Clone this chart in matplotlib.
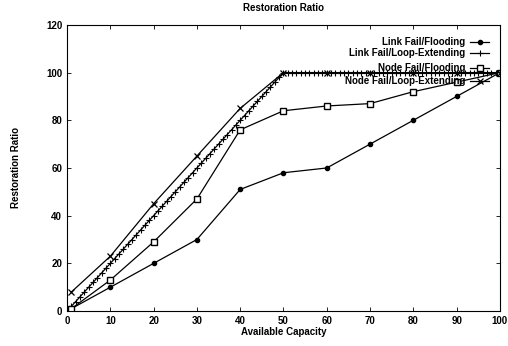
import matplotlib
matplotlib.use("Agg")
import matplotlib.pyplot as plt
from matplotlib.lines import Line2D

title = "Restoration Ratio"
xlabel = "Available Capacity"
ylabel = "Restoration Ratio"
xticks = [0, 10, 20, 30, 40, 50, 60, 70, 80, 90, 100]
yticks = [0, 20, 40, 60, 80, 100, 120]

lf_flood_x = [0, 1, 10, 20, 30, 40, 50, 60, 70, 80, 90, 100]
lf_flood_y = [0, 1, 10, 20, 30, 51, 58, 60, 70, 80, 90, 100]

lf_loop_x = list(range(0, 101))
lf_loop_y = [0, 2, 4, 6, 8, 10, 12, 14, 16, 18,
             20, 22, 24, 26, 28, 30, 32, 34, 36, 38,
             40, 42, 44, 46, 48, 50, 52, 54, 56, 58,
             60, 62, 64, 66, 68, 70, 72, 74, 76, 78,
             80, 82, 84, 86, 88, 90, 92, 94, 96, 98,
             100, 100, 100, 100, 100, 100, 100, 100, 100, 100,
             100, 100, 100, 100, 100, 100, 100, 100, 100, 100,
             100, 100, 100, 100, 100, 100, 100, 100, 100, 100,
             100, 100, 100, 100, 100, 100, 100, 100, 100, 100,
             100, 100, 100, 100, 100, 100, 100, 100, 100, 100,
             100]

nf_flood_x = [0, 1, 10, 20, 30, 40, 50, 60, 70, 80, 90, 100]
nf_flood_y = [0, 1, 13, 29, 47, 76, 84, 86, 87, 92, 96, 100]

nf_loop_x = [1, 10, 20, 30, 40, 50, 60, 70, 80, 90, 100]
nf_loop_y = [8, 23, 45, 65, 85, 100, 100, 100, 100, 100, 100]

labels = ['Link Fail/Flooding', 'Link Fail/Loop-Extending',
          'Node Fail/Flooding', 'Node Fail/Loop-Extending']

plt.rcParams['font.family'] = ['Liberation Sans', 'DejaVu Sans']
plt.rcParams['font.weight'] = 'bold'

fig = plt.figure(figsize=(5.08, 3.46), dpi=100)
ax = fig.add_axes([0.132, 0.101, 0.852, 0.827])

lw = 0.9
styles = [
    dict(marker='o', ms=3),
    dict(marker='+', ms=4, mew=0.8),
    dict(marker='s', ms=4, mfc='white', mew=1.0),
    dict(marker='x', ms=5, mew=0.9),
]
series = [(lf_flood_x, lf_flood_y), (lf_loop_x, lf_loop_y),
          (nf_flood_x, nf_flood_y), (nf_loop_x, nf_loop_y)]
for (xs, ys), st, lab in zip(series, styles, labels):
    ax.plot(xs, ys, color='black', lw=lw, label=lab, **st)

ax.set_xlim(0, 100)
ax.set_ylim(0, 120)
ax.set_xticks(xticks)
ax.set_yticks(yticks)
ax.tick_params(direction='in', length=3, labelsize=7, top=True, right=True, width=0.6)
for s in ax.spines.values():
    s.set_linewidth(0.8)

ax.set_title(title, fontsize=7, fontweight='bold', pad=10)
ax.set_xlabel(xlabel, fontsize=7, fontweight='bold', labelpad=1)
ax.set_ylabel(ylabel, fontsize=7, fontweight='bold', labelpad=18)

# gnuplot-style key: right-aligned text followed by line sample
key_rows = [0.940, 0.902, 0.849, 0.804]
for row, st, lab in zip(key_rows, styles, labels):
    ax.text(0.921, row, lab, transform=ax.transAxes, ha='right', va='center',
            fontsize=7, fontweight='bold')
    ax.add_line(Line2D([0.932, 0.975], [row, row], transform=ax.transAxes,
                       color='black', lw=lw, clip_on=False))
    ax.add_line(Line2D([0.9535], [row], transform=ax.transAxes, color='black',
                       lw=0, clip_on=False, **st))

fig.savefig('out.png', dpi=100)
